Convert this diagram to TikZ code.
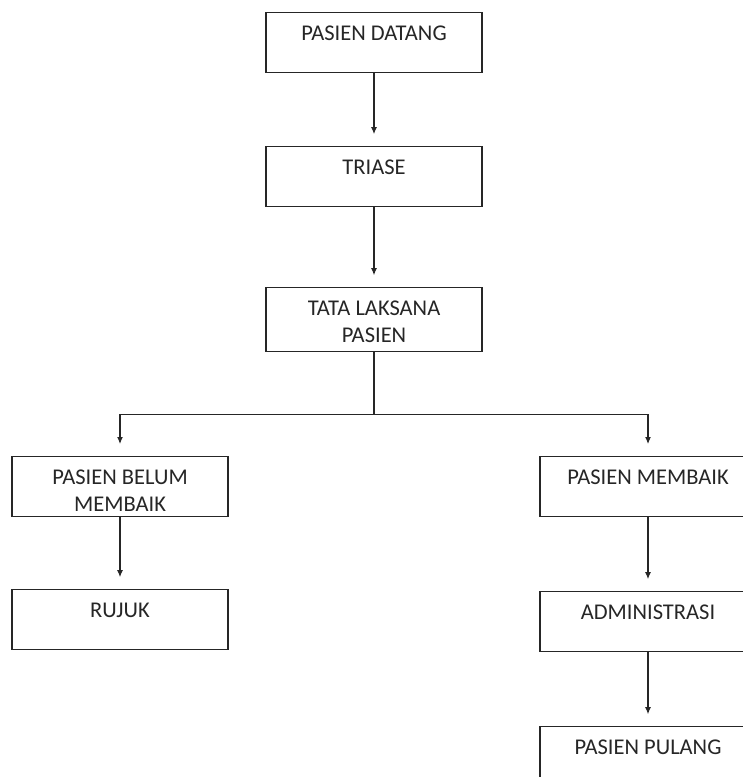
\documentclass[tikz,border=0pt]{standalone}
\usepackage{fontspec}
\setmainfont{Carlito}
\usetikzlibrary{positioning, arrows.meta}

\begin{document}
\begin{tikzpicture}[x=1pt, y=-1pt, node distance=74pt, line width=1.1pt, draw=black!85]
    % Define block styles
    \tikzstyle{block} = [rectangle, draw=black!85, minimum width=216pt, inner sep=0pt, align=center, text=black!85, font=\fontsize{22.5}{27}\selectfont, text height=28pt, text depth=32pt]
    \tikzstyle{block2} = [block, text height=55pt, text depth=9pt]
    \tikzstyle{line} = [draw=black!85, -{Latex[length=7pt, width=6pt]}, shorten >=12pt]

    % Fix the picture size
    \useasboundingbox (0,0) rectangle (743,777);
    \clip (0,0) rectangle (743,777);

    % Place nodes
    \node [block, anchor=north] (datang) at (374,12) {PASIEN DATANG};
    \node [block, below=73pt of datang] (triase) {TRIASE};
    \node [block2, below=80pt of triase] (tata) {TATA LAKSANA\\PASIEN};
    \coordinate [below=62pt of tata.south] (split);
    \node [block2, anchor=north, text depth=5pt] (belum) at (120,456) {PASIEN BELUM\\MEMBAIK};
    \node [block, below=72pt of belum] (rujuk) {RUJUK};
    \node [block, anchor=north] (membaik) at (648,456) {PASIEN MEMBAIK};
    \node [block, below=74pt of membaik] (admin) {ADMINISTRASI};
    \node [block, below=74pt of admin] (pulang) {PASIEN PULANG};

    % Draw connections as arrows
    \draw [line] (datang) -- (triase);
    \draw [line] (triase) -- (tata);
    \draw (tata) -- (split);
    \draw [line] (split) -| (belum);
    \draw [line] (split) -| (membaik);
    \draw [line] (belum) -- (rujuk);
    \draw [line] (membaik) -- (admin);
    \draw [line] (admin) -- (pulang);
\end{tikzpicture}
\end{document}
